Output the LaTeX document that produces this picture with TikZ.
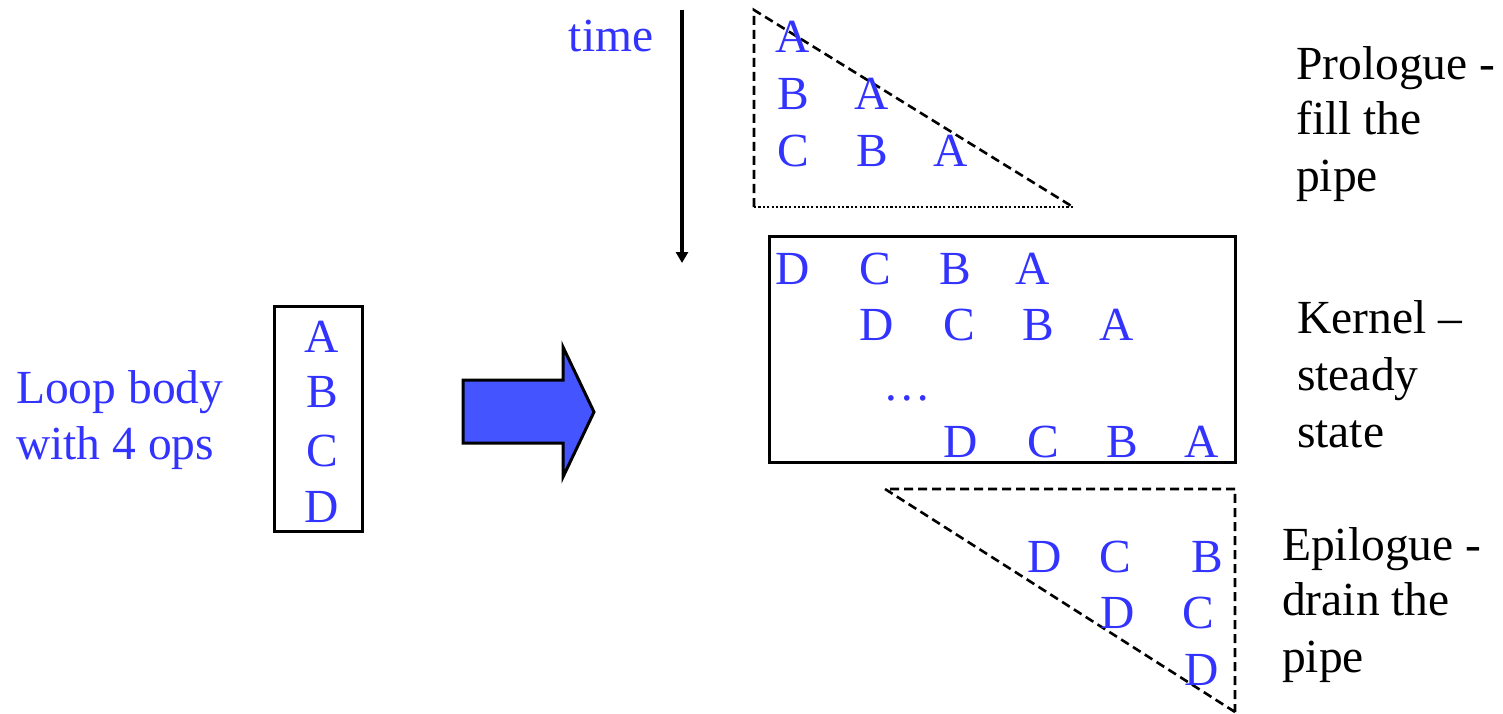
\documentclass[tikz,border=0pt]{standalone}
\usepackage{fontspec}
\setmainfont{Liberation Serif}
\usetikzlibrary{arrows.meta}
\definecolor{opblue}{RGB}{51,51,255}
\definecolor{arrowfill}{RGB}{68,85,255}
\begin{document}
\begin{tikzpicture}[x=1pt,y=-1pt,
  op/.style={anchor=base,inner sep=0pt,text=opblue,font=\fontsize{47.5}{56}\selectfont},
  bluetext/.style={anchor=base west,inner sep=0pt,text=opblue,font=\fontsize{47.5}{56}\selectfont},
  label/.style={anchor=base west,inner sep=0pt,text=black,font=\fontsize{47.5}{56}\selectfont},
  dashline/.style={draw=black,line width=2.6pt,dash pattern=on 9pt off 5pt},
  dotline/.style={draw=black,line width=2.6pt,dash pattern=on 2.2pt off 2.2pt},
  box/.style={draw=black,line width=3pt}]
\useasboundingbox (0,0) rectangle (1503,714);

% loop body
\node[bluetext] (lb1) at (16,403) {Loop body};
\node[bluetext] (lb2) at (16,459) {with 4 ops};
\coordinate (bodytl) at (274,306);
\coordinate (bodybr) at (362,531);
\draw[box] (bodytl) rectangle (bodybr);
\node[op] (bA) at (322,352) {A};
\node[op] (bB) at (322,407) {B};
\node[op] (bC) at (322,466) {C};
\node[op] (bD) at (322,522) {D};

% block arrow
\draw[line width=3pt,fill=arrowfill,line join=miter]
  (463,380) -- (563,380) -- (563,347) -- (594,412) -- (563,477) -- (563,443) -- (463,443) -- cycle;

% time axis
\node[op] (time) at (611,52) {time};
\coordinate (t0) at (682,10);
\coordinate (t1) at (682,263);
\draw[line width=4pt,-{Triangle[width=12pt,length=11pt]}] (t0) -- (t1);

% prologue
\coordinate (p1) at (754,10);
\coordinate (p2) at (754,207);
\coordinate (p3) at (1073,207);
\draw[dashline] (p2) -- (p1) -- (p3);
\draw[dotline] (p2) -- (p3);
\node[op] (pA1) at (793,53) {A};
\node[op] (pB1) at (793,110) {B};
\node[op] (pA2) at (872,110) {A};
\node[op] (pC1) at (793,167) {C};
\node[op] (pB2) at (872,167) {B};
\node[op] (pA3) at (951,167) {A};

% kernel
\coordinate (k1) at (769,236);
\coordinate (k2) at (1235,462);
\draw[box] (k1) rectangle (k2);
\node[op] (k1D) at (793,284) {D};
\node[op] (k1C) at (875,284) {C};
\node[op] (k1B) at (955,284) {B};
\node[op] (k1A) at (1033,284) {A};
\node[op] (k2D) at (877,340) {D};
\node[op] (k2C) at (959,340) {C};
\node[op] (k2B) at (1038,340) {B};
\node[op] (k2A) at (1117,340) {A};
\node[op] (kdots) at (907,400) {…};
\node[op] (k3D) at (961,457) {D};
\node[op] (k3C) at (1043,457) {C};
\node[op] (k3B) at (1122,457) {B};
\node[op] (k3A) at (1202,457) {A};

% epilogue
\coordinate (e1) at (885,489);
\coordinate (e2) at (1235,489);
\coordinate (e3) at (1235,712);
\draw[dashline] (e3) -- (e1) -- (e2) -- (e3);
\node[op] (e1D) at (1045,572) {D};
\node[op] (e1C) at (1115,572) {C};
\node[op] (e1B) at (1207,572) {B};
\node[op] (e2D) at (1118,628) {D};
\node[op] (e2C) at (1198,628) {C};
\node[op] (e3D) at (1202,685) {D};

% stage labels
\node[label] (pro1) at (1296,80) {Prologue -};
\node[label] (pro2) at (1296,135) {fill the};
\node[label] (pro3) at (1296,192) {pipe};
\node[label] (ker1) at (1297,333) {Kernel –};
\node[label] (ker2) at (1297,390) {steady};
\node[label] (ker3) at (1297,447) {state};
\node[label] (epi1) at (1282,560) {Epilogue -};
\node[label] (epi2) at (1282,615) {drain the};
\node[label] (epi3) at (1282,672) {pipe};
\end{tikzpicture}
\end{document}
